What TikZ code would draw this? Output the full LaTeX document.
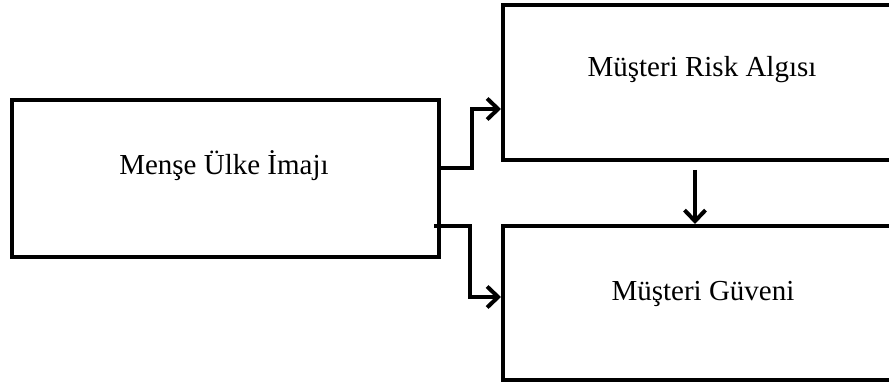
\documentclass[tikz,border=0pt]{standalone}
\usepackage{fontspec}
\setmainfont{Liberation Serif}
\usetikzlibrary{arrows.meta}
\begin{document}
\begin{tikzpicture}[x=1pt,y=-1pt,
  box/.style={draw=black,line width=4pt,rectangle,inner sep=0pt},
  lbl/.style={anchor=base,inner sep=0pt,font=\fontsize{29}{34}\selectfont},
  conn/.style={draw=black,line width=4pt,-{Straight Barb[length=11pt,width=21pt,line width=4pt]}},
  link/.style={draw=black,line width=4pt}
]
\useasboundingbox (0,0) rectangle (889,385);
\clip (0,0) rectangle (889,385);

% boxes
\node[box,minimum width=427pt,minimum height=157pt] (img) at (225.5,178.5) {};
\node[box,minimum width=398pt,minimum height=155pt] (risk) at (702,82.5) {};
\node[box,minimum width=398pt,minimum height=154pt] (trust) at (702,303) {};

% box texts
\node[lbl] (imgtxt) at (224,175) {Menşe Ülke İmajı};
\node[lbl] (risktxt) at (702,77) {Müşteri Risk Algısı};
\node[lbl] (trusttxt) at (703,300) {Müşteri Güveni};

% connectors
\draw[conn] ([yshift=10.5pt]img.east) -- ++(31,0) |- ([yshift=-26.5pt]risk.west);
\draw[conn] ([xshift=-7pt,yshift=-47.5pt]img.east) -- ++(36,0) |- ([yshift=6pt]trust.west);
\draw[conn] ([xshift=-7pt,yshift=-8pt]risk.south) -- ([xshift=-7pt]trust.north);
\end{tikzpicture}
\end{document}
